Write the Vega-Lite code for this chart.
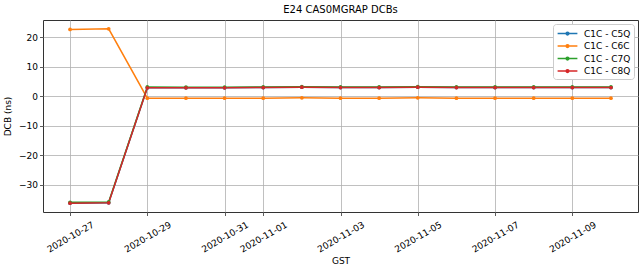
{
  "$schema": "https://vega.github.io/schema/vega-lite/v6.json",
  "autosize": "none",
  "width": 595,
  "height": 192,
  "padding": {"left": 43, "top": 20, "right": 6, "bottom": 59},
  "background": "white",
  "config": {
    "font": "DejaVu Sans",
    "view": {"stroke": "#333333", "strokeWidth": 1},
    "title": {"font": "DejaVu Sans", "fontSize": 10, "fontWeight": "normal", "color": "#000000", "offset": 5},
    "axis": {
      "labelFont": "DejaVu Sans", "titleFont": "DejaVu Sans",
      "labelFontSize": 9, "titleFontSize": 9, "titleFontWeight": "normal",
      "labelColor": "#000000", "titleColor": "#000000",
      "gridColor": "#b0b0b0", "gridWidth": 0.8, "gridOpacity": 1,
      "tickColor": "#333333", "tickSize": 3.5, "tickWidth": 0.8,
      "domain": false
    },
    "legend": {"labelFont": "DejaVu Sans", "labelFontSize": 9, "labelColor": "#000000"}
  },
  "title": {"text": "E24 CAS0MGRAP DCBs"},
  "data": {"values": [
    {"date": "2020-10-27", "series": "C1C - C5Q", "dcb": -36.2},
    {"date": "2020-10-28", "series": "C1C - C5Q", "dcb": -36.1},
    {"date": "2020-10-29", "series": "C1C - C5Q", "dcb": 2.9},
    {"date": "2020-10-30", "series": "C1C - C5Q", "dcb": 2.9},
    {"date": "2020-10-31", "series": "C1C - C5Q", "dcb": 2.9},
    {"date": "2020-11-01", "series": "C1C - C5Q", "dcb": 3.0},
    {"date": "2020-11-02", "series": "C1C - C5Q", "dcb": 3.1},
    {"date": "2020-11-03", "series": "C1C - C5Q", "dcb": 3.0},
    {"date": "2020-11-04", "series": "C1C - C5Q", "dcb": 3.0},
    {"date": "2020-11-05", "series": "C1C - C5Q", "dcb": 3.1},
    {"date": "2020-11-06", "series": "C1C - C5Q", "dcb": 3.0},
    {"date": "2020-11-07", "series": "C1C - C5Q", "dcb": 3.0},
    {"date": "2020-11-08", "series": "C1C - C5Q", "dcb": 3.0},
    {"date": "2020-11-09", "series": "C1C - C5Q", "dcb": 3.0},
    {"date": "2020-11-10", "series": "C1C - C5Q", "dcb": 3.0},
    {"date": "2020-10-27", "series": "C1C - C6C", "dcb": 22.7},
    {"date": "2020-10-28", "series": "C1C - C6C", "dcb": 22.9},
    {"date": "2020-10-29", "series": "C1C - C6C", "dcb": -0.6},
    {"date": "2020-10-30", "series": "C1C - C6C", "dcb": -0.6},
    {"date": "2020-10-31", "series": "C1C - C6C", "dcb": -0.6},
    {"date": "2020-11-01", "series": "C1C - C6C", "dcb": -0.6},
    {"date": "2020-11-02", "series": "C1C - C6C", "dcb": -0.5},
    {"date": "2020-11-03", "series": "C1C - C6C", "dcb": -0.6},
    {"date": "2020-11-04", "series": "C1C - C6C", "dcb": -0.6},
    {"date": "2020-11-05", "series": "C1C - C6C", "dcb": -0.5},
    {"date": "2020-11-06", "series": "C1C - C6C", "dcb": -0.6},
    {"date": "2020-11-07", "series": "C1C - C6C", "dcb": -0.6},
    {"date": "2020-11-08", "series": "C1C - C6C", "dcb": -0.6},
    {"date": "2020-11-09", "series": "C1C - C6C", "dcb": -0.6},
    {"date": "2020-11-10", "series": "C1C - C6C", "dcb": -0.6},
    {"date": "2020-10-27", "series": "C1C - C7Q", "dcb": -35.9},
    {"date": "2020-10-28", "series": "C1C - C7Q", "dcb": -35.8},
    {"date": "2020-10-29", "series": "C1C - C7Q", "dcb": 3.2},
    {"date": "2020-10-30", "series": "C1C - C7Q", "dcb": 3.1},
    {"date": "2020-10-31", "series": "C1C - C7Q", "dcb": 3.1},
    {"date": "2020-11-01", "series": "C1C - C7Q", "dcb": 3.2},
    {"date": "2020-11-02", "series": "C1C - C7Q", "dcb": 3.3},
    {"date": "2020-11-03", "series": "C1C - C7Q", "dcb": 3.2},
    {"date": "2020-11-04", "series": "C1C - C7Q", "dcb": 3.2},
    {"date": "2020-11-05", "series": "C1C - C7Q", "dcb": 3.3},
    {"date": "2020-11-06", "series": "C1C - C7Q", "dcb": 3.2},
    {"date": "2020-11-07", "series": "C1C - C7Q", "dcb": 3.2},
    {"date": "2020-11-08", "series": "C1C - C7Q", "dcb": 3.2},
    {"date": "2020-11-09", "series": "C1C - C7Q", "dcb": 3.2},
    {"date": "2020-11-10", "series": "C1C - C7Q", "dcb": 3.2},
    {"date": "2020-10-27", "series": "C1C - C8Q", "dcb": -36.2},
    {"date": "2020-10-28", "series": "C1C - C8Q", "dcb": -36.1},
    {"date": "2020-10-29", "series": "C1C - C8Q", "dcb": 2.9},
    {"date": "2020-10-30", "series": "C1C - C8Q", "dcb": 2.9},
    {"date": "2020-10-31", "series": "C1C - C8Q", "dcb": 2.9},
    {"date": "2020-11-01", "series": "C1C - C8Q", "dcb": 3.0},
    {"date": "2020-11-02", "series": "C1C - C8Q", "dcb": 3.1},
    {"date": "2020-11-03", "series": "C1C - C8Q", "dcb": 3.0},
    {"date": "2020-11-04", "series": "C1C - C8Q", "dcb": 3.0},
    {"date": "2020-11-05", "series": "C1C - C8Q", "dcb": 3.1},
    {"date": "2020-11-06", "series": "C1C - C8Q", "dcb": 3.0},
    {"date": "2020-11-07", "series": "C1C - C8Q", "dcb": 3.0},
    {"date": "2020-11-08", "series": "C1C - C8Q", "dcb": 3.0},
    {"date": "2020-11-09", "series": "C1C - C8Q", "dcb": 3.0},
    {"date": "2020-11-10", "series": "C1C - C8Q", "dcb": 3.0}
  ]},
  "mark": {"type": "line", "strokeWidth": 1.5, "point": {"filled": true, "size": 14, "opacity": 1}},
  "encoding": {
    "x": {
      "field": "date", "type": "temporal", "title": "GST",
      "scale": {"type": "utc", "domain": [
        {"year": 2020, "month": 10, "date": 26, "hours": 7, "minutes": 12, "utc": true},
        {"year": 2020, "month": 11, "date": 10, "hours": 16, "minutes": 48, "utc": true}
      ]},
      "axis": {
        "values": [
          {"year": 2020, "month": 10, "date": 27, "utc": true},
          {"year": 2020, "month": 10, "date": 29, "utc": true},
          {"year": 2020, "month": 10, "date": 31, "utc": true},
          {"year": 2020, "month": 11, "date": 1, "utc": true},
          {"year": 2020, "month": 11, "date": 3, "utc": true},
          {"year": 2020, "month": 11, "date": 5, "utc": true},
          {"year": 2020, "month": 11, "date": 7, "utc": true},
          {"year": 2020, "month": 11, "date": 9, "utc": true}
        ],
        "labelExpr": "utcFormat(datum.value, '%Y-%m-%d')",
        "labelAngle": -30, "labelAlign": "center", "labelBaseline": "middle",
        "labelPadding": 21, "labelOverlap": false, "labelBound": false, "titlePadding": 3
      }
    },
    "y": {
      "field": "dcb", "type": "quantitative", "title": "DCB (ns)",
      "scale": {"domain": [-39.2, 25.9], "nice": false, "zero": false},
      "axis": {"values": [-30, -20, -10, 0, 10, 20], "titlePadding": 6, "labelPadding": 2}
    },
    "color": {
      "field": "series", "type": "nominal", "title": null,
      "scale": {"domain": ["C1C - C5Q", "C1C - C6C", "C1C - C7Q", "C1C - C8Q"], "range": ["#1f77b4", "#ff7f0e", "#2ca02c", "#d62728"]},
      "legend": {
        "orient": "top-right", "offset": 4, "fillColor": "white", "strokeColor": "#cccccc",
        "padding": 3, "cornerRadius": 3,
        "symbolType": "M-1.8,0H1.8M-0.25,0A0.25,0.25 0 1,1 0.25,0A0.25,0.25 0 1,1 -0.25,0",
        "symbolStrokeWidth": 1.5, "symbolOffset": 5,
        "symbolSize": 121, "rowPadding": 0.5, "labelOffset": 10
      }
    }
  }
}
